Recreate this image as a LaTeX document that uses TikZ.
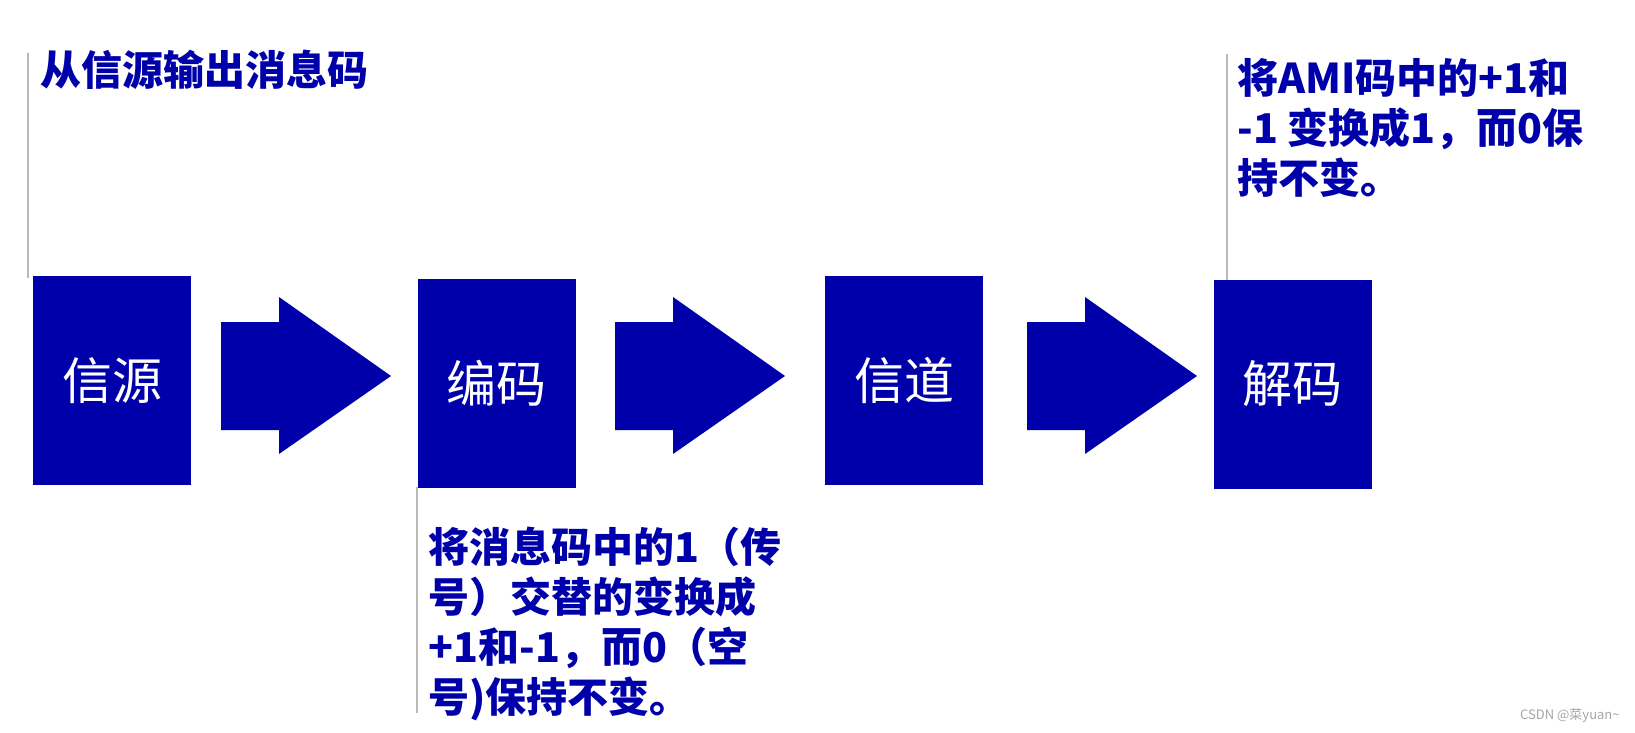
\documentclass[tikz,border=0pt]{standalone}
\usepackage{fontspec}
\setmainfont{Noto Sans CJK SC}
\definecolor{boxblue}{RGB}{0,0,170}

\begin{document}
\begin{tikzpicture}[x=0.5pt,y=-0.5pt,
  blk/.style={fill=boxblue,text=white,minimum width=79pt,minimum height=104.5pt,inner sep=0pt,
    font=\fontsize{25pt}{30pt}\selectfont},
  note/.style={text=boxblue,anchor=north west,inner sep=0pt,align=left,
    font=\fontsize{20.5pt}{25pt}\selectfont\bfseries},
  rule/.style={gray!55,line width=0.6pt}]
\useasboundingbox (0,0) rectangle (1635,733);
\fill[white] (0,0) rectangle (1635,733);

\node[blk] (src) at (112,380.5) {信源};
\node[blk] (enc) at (496.5,383) {编码};
\node[blk] (chan) at (904,380.5) {信道};
\node[blk] (dec) at (1292.5,384) {解码};

\foreach \x in {221,615,1027}
  \fill[boxblue] (\x,322) -- (\x+58,322) -- (\x+58,297) -- (\x+170,376)
    -- (\x+58,454) -- (\x+58,430) -- (\x,430) -- cycle;

\draw[rule] (28,53) -- (28,278);
\draw[rule] (417,487) -- (417,713);
\draw[rule] (1227,54) -- (1227,280);

\node[note] (srcnote) at (40,50) {从信源输出消息码};
\node[note] (encnote) at (428,527) {将消息码中的1（传\\号）交替的变换成\\+1和-1，而0（空\\号)保持不变。};
\node[note] (decnote) at (1237,58) {将AMI码中的+1和\\-1 变换成1，而0保\\持不变。};

\node[text=gray!70,anchor=east,inner sep=0pt,font=\fontsize{6.5pt}{8pt}\selectfont] (mark) at (1620,716) {CSDN @菜yuan\textasciitilde};
\end{tikzpicture}
\end{document}
